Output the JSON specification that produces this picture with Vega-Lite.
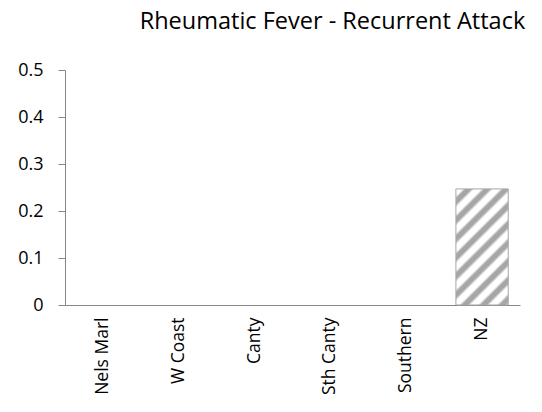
{
  "$schema": "https://vega.github.io/schema/vega-lite/v6.json",
  "autosize": "none",
  "width": 455,
  "height": 235,
  "padding": {"left": 65, "top": 70, "right": 22, "bottom": 107},
  "background": "white",
  "title": {
    "text": "Rheumatic Fever - Recurrent Attack",
    "anchor": "middle",
    "frame": "group",
    "dx": 40,
    "offset": 9,
    "baseline": "alphabetic",
    "font": "Open Sans",
    "fontSize": 23.5,
    "fontWeight": "normal",
    "color": "#000000"
  },
  "data": {
    "values": [
      {"region": "Nels Marl", "value": 0},
      {"region": "W Coast", "value": 0},
      {"region": "Canty", "value": 0},
      {"region": "Sth Canty", "value": 0},
      {"region": "Southern", "value": 0},
      {"region": "NZ", "value": 0.247}
    ]
  },
  "transform": [{"filter": "datum.value > 0"}],
  "mark": {
    "type": "bar",
    "stroke": "#a6a6a6",
    "strokeWidth": 1,
    "fill": {
      "gradient": "linear",
      "x1": 0, "y1": 0, "x2": 0.5406, "y2": 1.206,
      "stops": [
        {"offset": 0, "color": "#ffffff"},
        {"offset": 0.04, "color": "#ffffff"},
        {"offset": 0.06, "color": "#a6a6a6"},
        {"offset": 0.09, "color": "#a6a6a6"},
        {"offset": 0.111, "color": "#ffffff"},
        {"offset": 0.151, "color": "#ffffff"},
        {"offset": 0.171, "color": "#a6a6a6"},
        {"offset": 0.201, "color": "#a6a6a6"},
        {"offset": 0.222, "color": "#ffffff"},
        {"offset": 0.262, "color": "#ffffff"},
        {"offset": 0.282, "color": "#a6a6a6"},
        {"offset": 0.312, "color": "#a6a6a6"},
        {"offset": 0.333, "color": "#ffffff"},
        {"offset": 0.373, "color": "#ffffff"},
        {"offset": 0.393, "color": "#a6a6a6"},
        {"offset": 0.423, "color": "#a6a6a6"},
        {"offset": 0.444, "color": "#ffffff"},
        {"offset": 0.484, "color": "#ffffff"},
        {"offset": 0.504, "color": "#a6a6a6"},
        {"offset": 0.534, "color": "#a6a6a6"},
        {"offset": 0.556, "color": "#ffffff"},
        {"offset": 0.596, "color": "#ffffff"},
        {"offset": 0.616, "color": "#a6a6a6"},
        {"offset": 0.646, "color": "#a6a6a6"},
        {"offset": 0.667, "color": "#ffffff"},
        {"offset": 0.707, "color": "#ffffff"},
        {"offset": 0.727, "color": "#a6a6a6"},
        {"offset": 0.757, "color": "#a6a6a6"},
        {"offset": 0.778, "color": "#ffffff"},
        {"offset": 0.818, "color": "#ffffff"},
        {"offset": 0.838, "color": "#a6a6a6"},
        {"offset": 0.868, "color": "#a6a6a6"},
        {"offset": 0.889, "color": "#ffffff"},
        {"offset": 0.929, "color": "#ffffff"},
        {"offset": 0.949, "color": "#a6a6a6"},
        {"offset": 0.979, "color": "#a6a6a6"},
        {"offset": 1, "color": "#ffffff"}
      ]
    }
  },
  "encoding": {
    "x": {
      "field": "region",
      "type": "nominal",
      "sort": null,
      "scale": {
        "domain": ["Nels Marl", "W Coast", "Canty", "Sth Canty", "Southern", "NZ"],
        "paddingInner": 0.31,
        "paddingOuter": 0.155
      },
      "axis": {
        "title": null,
        "labelAngle": -90,
        "labelAlign": "right",
        "labelBaseline": "middle",
        "labelPadding": 12,
        "ticks": false,
        "domainColor": "#868686",
        "domainWidth": 1,
        "labelFont": "Open Sans",
        "labelFontSize": 17.5,
        "labelColor": "#000000"
      }
    },
    "y": {
      "field": "value",
      "type": "quantitative",
      "scale": {"domain": [0, 0.5], "nice": false},
      "axis": {
        "title": null,
        "values": [0, 0.1, 0.2, 0.3, 0.4, 0.5],
        "format": "~g",
        "grid": false,
        "tickSize": 7,
        "tickColor": "#868686",
        "domainColor": "#868686",
        "labelPadding": 15,
        "labelFont": "Open Sans",
        "labelFontSize": 18,
        "labelColor": "#000000"
      }
    }
  },
  "config": {"view": {"stroke": null}}
}
